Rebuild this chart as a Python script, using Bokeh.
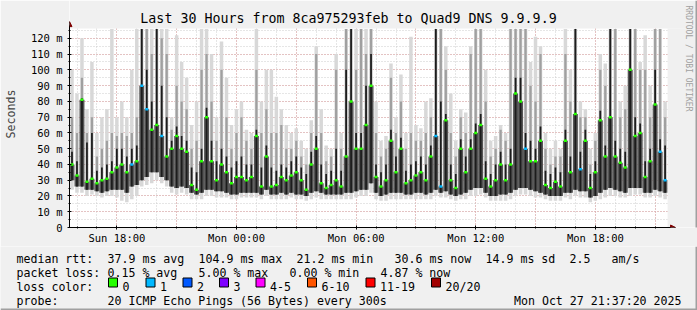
import math
from bokeh.plotting import figure
from bokeh.layouts import column
from bokeh.core.properties import value
from bokeh.models import (ColumnDataSource, Range1d, FixedTicker, Label, Arrow, NormalHead,
                          BoxAnnotation)
from bokeh.embed import file_html
from bokeh.resources import INLINE

MONO = "DejaVu Sans Mono"

# ---- data (hours since Sun 00:00; 15-minute bins; values in ms) ----
start_hour = 15 + 37 / 60 + 20 / 3600     # Sun 15:37:20
step_hours = 0.25
span_hours = 30

median_ms = [40, 33, 81, 29, 31, 28, 30, 31, 35, 38, 40, 35, 40, 42, 90, 75, 62, 65, 58, 45,
             50, 58, 50, 48, 27, 24, 42, 70, 42, 30, 40, 35, 28, 32, 32, 30, 32, 58, 26, 45,
             26, 27, 32, 30, 33, 35, 30, 24, 40, 50, 28, 25, 27, 30, 26, 45, 80, 50, 50, 65,
             90, 32, 26, 30, 55, 35, 50, 28, 30, 33, 35, 30, 45, 58, 26, 68, 30, 25, 50, 35,
             50, 60, 65, 31, 26, 30, 40, 30, 40, 85, 80, 50, 42, 42, 55, 27, 25, 29, 26, 55,
             35, 72, 37, 55, 25, 35, 68, 45, 70, 45, 41, 38, 100, 58, 60, 32, 42, 78, 48, 30]

dark_lo_ms = [30, 26, 26, 24, 24, 23, 22, 23, 24, 24, 24, 22, 26, 27, 30, 32, 35, 35, 32, 30,
              26, 25, 26, 25, 22, 21, 22, 24, 24, 23, 23, 22, 21, 21, 22, 22, 22, 22, 21, 24,
              21, 21, 22, 21, 22, 21, 21, 20, 22, 23, 22, 21, 21, 21, 21, 22, 22, 23, 24, 24,
              28, 22, 20, 21, 22, 22, 22, 21, 21, 22, 22, 21, 22, 24, 22, 23, 21, 20, 21, 22,
              24, 25, 25, 22, 20, 20, 21, 21, 22, 24, 25, 25, 24, 23, 22, 21, 20, 20, 20, 22,
              22, 24, 23, 23, 19, 20, 22, 24, 25, 24, 23, 22, 25, 25, 25, 22, 22, 24, 23, 22]

dark_hi_ms = [48, 42, 82, 54, 60, 36, 38, 40, 42, 50, 50, 45, 50, 52, 126, 100, 80, 126, 90, 70,
              55, 64, 58, 55, 38, 35, 50, 76, 55, 42, 50, 45, 38, 42, 45, 40, 40, 62, 38, 52,
              38, 36, 40, 38, 42, 45, 38, 34, 48, 58, 40, 34, 36, 50, 36, 100, 126, 60, 60, 90,
              110, 40, 35, 40, 62, 45, 57, 36, 40, 42, 45, 40, 52, 126, 80, 72, 40, 34, 56, 45,
              56, 66, 72, 42, 34, 40, 48, 40, 50, 95, 95, 60, 55, 50, 64, 36, 34, 38, 35, 62,
              45, 126, 48, 62, 34, 42, 74, 52, 126, 55, 50, 48, 126, 70, 66, 42, 50, 100, 56, 52]

mid_hi_ms = [70, 60, 95, 60, 70, 45, 50, 55, 60, 58, 60, 58, 60, 70, 126, 126, 110, 126, 120, 110,
             62, 90, 80, 75, 50, 55, 100, 110, 80, 55, 100, 70, 50, 60, 70, 55, 50, 100, 60, 75,
             60, 60, 65, 50, 50, 55, 45, 40, 60, 110, 60, 42, 45, 100, 50, 126, 126, 100, 126, 110,
             126, 60, 45, 50, 95, 60, 80, 50, 60, 55, 55, 60, 70, 126, 126, 100, 60, 45, 70, 60,
             110, 126, 126, 80, 45, 50, 62, 55, 126, 126, 126, 126, 90, 80, 110, 50, 40, 45, 45, 110,
             80, 126, 70, 70, 40, 55, 100, 90, 126, 126, 70, 75, 126, 126, 100, 100, 70, 126, 126, 70]

light_hi_ms = [100, 85, 120, 75, 105, 60, 70, 75, 126, 70, 80, 70, 100, 126, 126, 126, 126, 126, 126, 126,
               70, 122, 105, 95, 65, 80, 126, 126, 110, 70, 118, 95, 65, 75, 80, 62, 60, 126, 80, 100,
               100, 83, 75, 65, 60, 63, 55, 50, 68, 115, 75, 52, 50, 110, 60, 126, 126, 126, 126, 126,
               126, 80, 55, 58, 104, 70, 97, 60, 121, 65, 63, 80, 82, 126, 126, 115, 85, 55, 75, 73,
               115, 126, 126, 100, 55, 58, 65, 60, 126, 126, 126, 126, 105, 121, 115, 60, 50, 55, 50, 126,
               100, 126, 80, 75, 50, 60, 110, 104, 126, 126, 80, 90, 126, 126, 105, 122, 90, 126, 126, 80]

light_lo_ms = [24, 22, 22, 20, 21, 20, 19, 20, 20, 19, 17, 16, 18, 20, 26, 27, 28, 30, 28, 26,
               22, 21, 22, 21, 18, 18, 18, 20, 20, 19, 19, 19, 18, 18, 19, 19, 19, 19, 18, 20,
               18, 18, 18, 18, 19, 18, 18, 17, 18, 19, 18, 18, 18, 18, 18, 18, 18, 19, 20, 20,
               22, 18, 17, 17, 18, 18, 18, 18, 18, 18, 18, 18, 18, 20, 19, 19, 18, 17, 18, 18,
               20, 20, 21, 19, 17, 17, 17, 17, 18, 20, 21, 21, 20, 19, 19, 18, 17, 17, 17, 19,
               18, 20, 19, 19, 16, 17, 18, 19, 20, 20, 19, 19, 20, 21, 21, 19, 19, 20, 19, 18]

lost_pings = [0] * 120
for _i in (12, 14, 15, 18, 73, 74, 91, 102, 118, 119):
    lost_pings[_i] = 1

loss_labels = ["0", "1", "2", "3", "4-5", "6-10", "11-19", "20/20"]
loss_colors = ["#26ff00", "#00b8ff", "#0059ff", "#7e00ff", "#ff00ff", "#ff5500", "#ff0000", "#a10000"]

y_ticks = list(range(0, 121, 10))
x_label_hours = [18, 24, 30, 36, 42]
x_label_text = ["Sun 18:00", "Mon 00:00", "Mon 06:00", "Mon 12:00", "Mon 18:00"]

title_text = "Last 30 Hours from 8ca975293feb to Quad9 DNS 9.9.9.9"
# legend rows: (character column, text)
legend_rtt = [(0, "median rtt:"), (13, "37.9 ms avg"), (26, "104.9 ms max"), (40, "21.2 ms min"),
              (54, "30.6 ms now"), (67, "14.9 ms sd"), (79, "2.5"), (85, "am/s")]
legend_loss = [(0, "packet loss:"), (13, "0.15 % avg"), (26, "5.00 % max"), (39, "0.00 % min"),
               (52, "4.87 % now")]
legend_color_head = [(0, "loss color:")]
legend_probe = [(0, "probe:"), (13, "20 ICMP Echo Pings (56 Bytes) every 300s")]
legend_date = "Mon Oct 27 21:37:20 2025"

# ---- layout constants (pixels) ----
W = 697
MAIN_H = 246          # main figure: frame spans canvas y 0..228, x 67..697
LEG_H = 310 - MAIN_H  # legend strip below
FL, FB = 67, 18
PLOT_TOP_PX = 28      # top of the graph canvas
PX_PER_HOUR = 20.0
PX_PER_MS = 190.0 / 120.0
CHAR_W = 7.0
TEXT_X0 = 16
BG = "#f0f0f0"

frame_h = MAIN_H - FB
y_max = frame_h / PX_PER_MS
x_max = start_hour + (W - FL) / PX_PER_HOUR
plot_top_ms = (frame_h - PLOT_TOP_PX) / PX_PER_MS
end_hour = start_hour + span_hours

# ---- main chart ----
n = len(median_ms)
bin_x = [start_hour + (i + 0.5) * step_hours for i in range(n)]
src = ColumnDataSource(dict(
    x=bin_x, med=median_ms, dlo=dark_lo_ms, dhi=dark_hi_ms, mhi=mid_hi_ms,
    lhi=light_hi_ms, llo=light_lo_ms,
    col=[loss_colors[k] for k in lost_pings],
))

p = figure(width=W, height=MAIN_H, output_backend="svg", toolbar_location=None,
           x_range=Range1d(start_hour, x_max), y_range=Range1d(0, y_max),
           min_border_left=FL, min_border_right=0, min_border_top=0, min_border_bottom=FB)
p.border_fill_color = BG
p.background_fill_color = "#ffffff"
p.outline_line_color = None

# grids
p.xgrid.ticker = FixedTicker(ticks=list(range(18, 46, 3)), minor_ticks=list(range(16, 46)))
p.ygrid.ticker = FixedTicker(ticks=y_ticks, minor_ticks=list(range(5, 126, 5)))
for g in (p.xgrid, p.ygrid):
    g.grid_line_color = "#e3a0a0"
    g.grid_line_dash = "1 2"
    g.grid_line_width = 1
    g.minor_grid_line_color = "#cdcdcd"
    g.minor_grid_line_dash = "1 2"

# smoke
p.vbar(x="x", width=step_hours * 0.7, bottom="llo", top="lhi", source=src,
       fill_color="#d8d8d8", line_color=None)
p.vbar(x="x", width=step_hours * 0.45, bottom="dlo", top="mhi", source=src,
       fill_color="#a0a0a0", line_color=None)
p.vbar(x="x", width=step_hours, bottom="dlo", top="med", source=src,
       fill_color="#555555", line_color=None)
p.vbar(x="x", width=step_hours * 0.35, bottom="dlo", top="dhi", source=src,
       fill_color="#1c1c1c", line_color=None)
# median
p.rect(x="x", y="med", width=step_hours * 0.6, height=2.5, height_units="screen",
       source=src, fill_color="col", line_color=None)

# background outside the graph canvas (covers grid lines there)
p.quad(left=start_hour, right=x_max, bottom=plot_top_ms, top=y_max,
       fill_color=BG, line_color=None)
p.quad(left=end_hour, right=x_max, bottom=0, top=plot_top_ms,
       fill_color=BG, line_color=None)

# axes
p.xaxis.ticker = FixedTicker(ticks=x_label_hours, minor_ticks=list(range(16, 46)))
p.xaxis.major_label_overrides = {h: t for h, t in zip(x_label_hours, x_label_text)}
p.yaxis.ticker = FixedTicker(ticks=y_ticks, minor_ticks=list(range(5, 126, 5)))
p.yaxis.major_label_overrides = {v: ("0" if v == 0 else f"{v} m") for v in y_ticks}
for ax in (p.xaxis[0], p.yaxis[0]):
    ax.axis_line_color = "black"
    ax.major_tick_line_color = "black"
    ax.minor_tick_line_color = "black"
    ax.major_tick_out = 2
    ax.major_tick_in = 2
    ax.minor_tick_out = 1
    ax.minor_tick_in = 1
    ax.major_label_text_font = MONO
    ax.major_label_text_font_size = "10.5px"
    ax.major_label_text_color = "black"
p.xaxis[0].bounds = (start_hour, end_hour + 0.15)
p.xaxis[0].major_label_standoff = 2
ay = p.yaxis[0]
ay.bounds = (0, plot_top_ms + 2)
ay.major_label_standoff = 5
ay.axis_label = "Seconds"
ay.axis_label_text_font = MONO
ay.axis_label_text_font_size = "11.6px"
ay.axis_label_text_font_style = "normal"
ay.axis_label_standoff = 10

# arrows at the ends of the axes
p.add_layout(Arrow(end=NormalHead(size=5, fill_color="#7f0000", line_color="#7f0000"),
                   x_start=start_hour, y_start=plot_top_ms, x_end=start_hour,
                   y_end=plot_top_ms + 4.3, line_color="black", line_width=1))
p.add_layout(Arrow(end=NormalHead(size=5, fill_color="#7f0000", line_color="#7f0000"),
                   x_start=end_hour, y_start=0, x_end=end_hour + 0.4, y_end=0,
                   line_color="black", line_width=1))


def canvas_label(fig, px, py, txt, size="11.6px", align="left", color="black", angle=0.0,
                 baseline="alphabetic"):
    fig.add_layout(Label(x=px, y=py, x_units="canvas", y_units="canvas", text=txt,
                         text_font=MONO, text_font_size=size, text_align=align,
                         text_baseline=baseline, text_color=color, angle=angle))


canvas_label(p, 348, 18, title_text, size="13.3px", align="center", baseline="middle")
canvas_label(p, 688, 58, "RRDTOOL / TOBI OETIKER", size="8px", align="center",
             color="#a0a0a0", angle=-math.pi / 2, baseline="middle")
p.add_layout(BoxAnnotation(left=W - 2, right=W, top=0, bottom=MAIN_H, left_units="canvas",
                           right_units="canvas", top_units="canvas", bottom_units="canvas",
                           fill_color="#a0a0a0", fill_alpha=1, line_color=None))

# ---- legend strip (its frame is the whole strip; coordinates are pixels from top-left) ----
leg = figure(width=W, height=LEG_H, output_backend="svg", toolbar_location=None,
             x_range=Range1d(0, W), y_range=Range1d(LEG_H, 0),
             x_axis_location=None, y_axis_location=None,
             min_border_left=0, min_border_right=0, min_border_top=0, min_border_bottom=0)
leg.border_fill_color = BG
leg.background_fill_color = BG
leg.outline_line_color = None
leg.xgrid.visible = False
leg.ygrid.visible = False

# keep the strip's frame independent of the chart's frame in the column layout
for fig in (p, leg):
    try:
        fig.frame_align = False
    except Exception:
        pass

row_center = [8, 22, 36, 50]
BASE_DY = 4
tx, ty, tt = [], [], []
for row, segs in ((0, legend_rtt), (1, legend_loss), (2, legend_color_head), (3, legend_probe)):
    for col, txt in segs:
        tx.append(TEXT_X0 + col * CHAR_W)
        ty.append(row_center[row] + BASE_DY)
        tt.append(txt)

box_left_px = [108, 145.5, 182.5, 219, 255.5, 307, 365.5, 431]
for bx, lab in zip(box_left_px, loss_labels):
    tx.append(bx + 14)
    ty.append(row_center[2] + BASE_DY)
    tt.append(lab)

leg.text(x=tx, y=ty, text=tt, text_font=value(MONO), text_font_size="11.6px",
         text_align="left", text_baseline="alphabetic", text_color="black")
leg.text(x=[681], y=[row_center[3] + BASE_DY], text=[legend_date], text_font=value(MONO),
         text_font_size="11.6px", text_align="right", text_baseline="alphabetic",
         text_color="black")
leg.rect(x=[bx + 4.5 for bx in box_left_px], y=[row_center[2]] * len(box_left_px),
         width=9, height=9, fill_color=loss_colors, line_color="black", line_width=1)
# shaded edges of the image
leg.quad(left=[W - 2, 0], right=[W, W], top=[0, LEG_H - 2], bottom=[LEG_H, LEG_H],
         fill_color="#a0a0a0", line_color=None)

open("out.html", "w").write(file_html(column(p, leg), INLINE))
